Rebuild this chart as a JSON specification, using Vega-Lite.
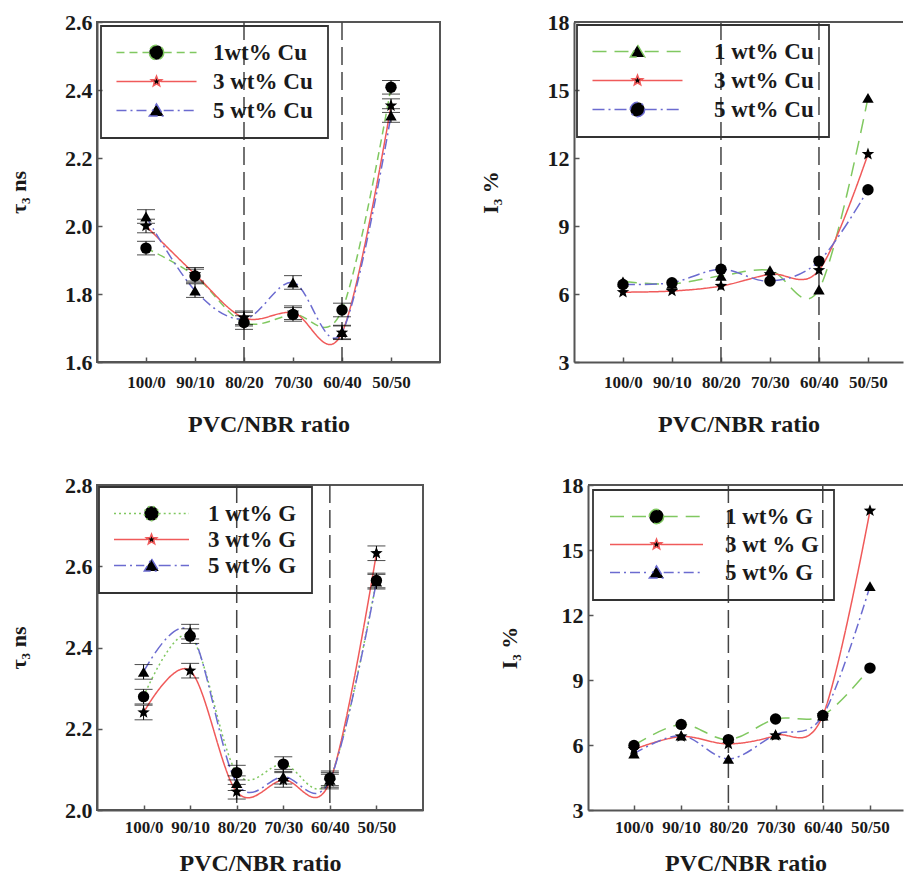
{
  "$schema": "https://vega.github.io/schema/vega-lite/v6.json",
  "padding": {"left": 6, "top": 10, "right": 0, "bottom": 0},
  "config": {
    "font": "Liberation Serif",
    "view": {"stroke": null},
    "axis": {"grid": false, "domainColor": "#555", "domainWidth": 2, "tickColor": "#555", "tickSize": -5, "tickWidth": 1.5,
      "labelFont": "Liberation Serif", "labelFontWeight": "bold", "labelColor": "#1a1a1a",
      "titleFont": "Liberation Serif", "titleFontWeight": "bold", "titleColor": "#1a1a1a"},
    "axisX": {"labelFontSize": 17, "labelAngle": 0, "labelPadding": 17, "titleFontSize": 24, "titlePadding": 22},
    "axisY": {"labelFontSize": 22, "labelPadding": 10, "titleFontSize": 22, "titlePadding": 34},
    "legend": {"orient": "top-left", "strokeColor": "#333", "strokeWidth": 1.8, "padding": 15,
      "labelFont": "Liberation Serif", "labelFontWeight": "bold", "labelFontSize": 23, "labelColor": "#1a1a1a",
      "symbolSize": 144, "symbolStrokeWidth": 1.5}
  },
  "spacing": 36,
  "resolve": {"scale": {"x": "independent", "y": "independent", "color": "independent", "shape": "independent", "strokeDash": "independent"}, "legend": {"color": "independent", "shape": "independent", "strokeDash": "independent"}},
  "vconcat": [
    {
      "bounds": "flush",
      "spacing": 134,
      "resolve": {"scale": {"x": "independent", "y": "independent", "color": "independent", "shape": "independent", "strokeDash": "independent"}, "legend": {"color": "independent", "shape": "independent", "strokeDash": "independent"}},
      "hconcat": [
        {
          "width": 343, "height": 340,
          "view": {"stroke": "#555", "strokeWidth": 2},
          "data": {"values": [
            {"ratio": "100/0", "series": "1wt% Cu", "val": 1.935, "err": 0.02},
            {"ratio": "90/10", "series": "1wt% Cu", "val": 1.853, "err": 0.02},
            {"ratio": "80/20", "series": "1wt% Cu", "val": 1.716, "err": 0.02},
            {"ratio": "70/30", "series": "1wt% Cu", "val": 1.740, "err": 0.02},
            {"ratio": "60/40", "series": "1wt% Cu", "val": 1.753, "err": 0.02},
            {"ratio": "50/50", "series": "1wt% Cu", "val": 2.408, "err": 0.02},
            {"ratio": "100/0", "series": "3 wt% Cu", "val": 2.000, "err": 0.02},
            {"ratio": "90/10", "series": "3 wt% Cu", "val": 1.858, "err": 0.02},
            {"ratio": "80/20", "series": "3 wt% Cu", "val": 1.730, "err": 0.02},
            {"ratio": "70/30", "series": "3 wt% Cu", "val": 1.745, "err": 0.02},
            {"ratio": "60/40", "series": "3 wt% Cu", "val": 1.686, "err": 0.02},
            {"ratio": "50/50", "series": "3 wt% Cu", "val": 2.354, "err": 0.02},
            {"ratio": "100/0", "series": "5 wt% Cu", "val": 2.028, "err": 0.02},
            {"ratio": "90/10", "series": "5 wt% Cu", "val": 1.810, "err": 0.02},
            {"ratio": "80/20", "series": "5 wt% Cu", "val": 1.726, "err": 0.02},
            {"ratio": "70/30", "series": "5 wt% Cu", "val": 1.834, "err": 0.02},
            {"ratio": "60/40", "series": "5 wt% Cu", "val": 1.688, "err": 0.02},
            {"ratio": "50/50", "series": "5 wt% Cu", "val": 2.325, "err": 0.02}
          ]},
          "layer": [
            {
              "data": {"values": [{"ratio": "80/20"}, {"ratio": "60/40"}]},
              "mark": {"type": "rule", "color": "#444", "strokeWidth": 1.5, "strokeDash": [18, 7]},
              "encoding": {"x": {"field": "ratio", "type": "ordinal", "scale": {"type": "point", "domain": ["100/0", "90/10", "80/20", "70/30", "60/40", "50/50"], "padding": 1}, "axis": {"title": "PVC/NBR ratio"}}}
            },
            {
              "mark": {"type": "line", "interpolate": "cardinal", "tension": 0, "strokeWidth": 1.5},
              "encoding": {
                "x": {"field": "ratio", "type": "ordinal", "scale": {"type": "point", "domain": ["100/0", "90/10", "80/20", "70/30", "60/40", "50/50"], "padding": 1}, "axis": {"title": "PVC/NBR ratio"}},
                "y": {"field": "val", "type": "quantitative", "scale": {"domain": [1.6, 2.6], "nice": false, "zero": false}, "axis": {"title": "τ₃ ns", "values": [1.6, 1.8, 2.0, 2.2, 2.4, 2.6], "format": ".1f"}},
                "color": {"field": "series", "type": "nominal", "scale": {"domain": ["1wt% Cu", "3 wt% Cu", "5 wt% Cu"], "range": ["#80c860", "#f05a5a", "#6b6bd0"]},
                  "legend": {"title": null, "offset": 4, "symbolOffset": 29, "labelOffset": 45, "rowPadding": 5,
                    "encode": {"symbols": {"update": {"fill": {"value": "black"}, "shape": {"signal": "datum.value == '1wt% Cu' ? 'M-6.67,0L-1.2,0M1.2,0L6.67,0M1.2,0A1.2,1.2 0 1,1 -1.2,0A1.2,1.2 0 1,1 1.2,0Z' : datum.value == '3 wt% Cu' ? 'M-6.67,0L-0.7,0M0.7,0L6.67,0M0,-0.9L0.222,-0.306L0.856,-0.278L0.359,0.117L0.529,0.728L0,0.378L-0.529,0.728L-0.359,0.117L-0.856,-0.278L-0.222,-0.306Z' : 'M-6.67,0L-1.2,0M1.2,0L6.67,0M0,-1.1L1.2,0.9L-1.2,0.9Z'"}}}}}},
                "strokeDash": {"field": "series", "type": "nominal", "scale": {"domain": ["1wt% Cu", "3 wt% Cu", "5 wt% Cu"], "range": [[8, 5], [1, 0], [10, 4, 2, 4]]},
                  "legend": {"title": null, "offset": 4, "symbolOffset": 29, "labelOffset": 45, "rowPadding": 5,
                    "encode": {"symbols": {"update": {"fill": {"value": "black"}, "shape": {"signal": "datum.value == '1wt% Cu' ? 'M-6.67,0L-1.2,0M1.2,0L6.67,0M1.2,0A1.2,1.2 0 1,1 -1.2,0A1.2,1.2 0 1,1 1.2,0Z' : datum.value == '3 wt% Cu' ? 'M-6.67,0L-0.7,0M0.7,0L6.67,0M0,-0.9L0.222,-0.306L0.856,-0.278L0.359,0.117L0.529,0.728L0,0.378L-0.529,0.728L-0.359,0.117L-0.856,-0.278L-0.222,-0.306Z' : 'M-6.67,0L-1.2,0M1.2,0L6.67,0M0,-1.1L1.2,0.9L-1.2,0.9Z'"}}}}}},
                "order": {"value": null}
              }
            },
            {
              "mark": {"type": "errorbar", "ticks": true, "color": "black"},
              "encoding": {
                "x": {"field": "ratio", "type": "ordinal", "scale": {"type": "point", "domain": ["100/0", "90/10", "80/20", "70/30", "60/40", "50/50"], "padding": 1}, "axis": {"title": "PVC/NBR ratio"}},
                "y": {"field": "val", "type": "quantitative", "scale": {"domain": [1.6, 2.6], "nice": false, "zero": false}, "axis": {"title": "τ₃ ns", "values": [1.6, 1.8, 2.0, 2.2, 2.4, 2.6], "format": ".1f"}},
                "yError": {"field": "err"}
              }
            },
            {
              "mark": {"type": "point", "filled": true, "color": "black", "opacity": 1, "size": 130},
              "encoding": {
                "x": {"field": "ratio", "type": "ordinal", "scale": {"type": "point", "domain": ["100/0", "90/10", "80/20", "70/30", "60/40", "50/50"], "padding": 1}, "axis": {"title": "PVC/NBR ratio"}},
                "y": {"field": "val", "type": "quantitative", "scale": {"domain": [1.6, 2.6], "nice": false, "zero": false}, "axis": {"title": "τ₃ ns", "values": [1.6, 1.8, 2.0, 2.2, 2.4, 2.6], "format": ".1f"}},
                "shape": {"field": "series", "type": "nominal", "scale": {"domain": ["5 wt% Cu", "3 wt% Cu", "1wt% Cu"], "range": ["triangle-up", "M0,-1.15L0.284,-0.391L1.094,-0.355L0.459,0.15L0.676,0.93L0,0.483L-0.676,0.93L-0.459,0.15L-1.094,-0.355L-0.284,-0.391Z", "circle"]}, "legend": null}
              }
            }
          ]
        },
        {
          "width": 329, "height": 340,
          "data": {"values": [
            {"ratio": "100/0", "series": "1 wt% Cu", "val": 6.55},
            {"ratio": "90/10", "series": "1 wt% Cu", "val": 6.45},
            {"ratio": "80/20", "series": "1 wt% Cu", "val": 6.8},
            {"ratio": "70/30", "series": "1 wt% Cu", "val": 7.05},
            {"ratio": "60/40", "series": "1 wt% Cu", "val": 6.2},
            {"ratio": "50/50", "series": "1 wt% Cu", "val": 14.65},
            {"ratio": "100/0", "series": "3 wt% Cu", "val": 6.08},
            {"ratio": "90/10", "series": "3 wt% Cu", "val": 6.13},
            {"ratio": "80/20", "series": "3 wt% Cu", "val": 6.35},
            {"ratio": "70/30", "series": "3 wt% Cu", "val": 6.87},
            {"ratio": "60/40", "series": "3 wt% Cu", "val": 7.05},
            {"ratio": "50/50", "series": "3 wt% Cu", "val": 12.17},
            {"ratio": "100/0", "series": "5 wt% Cu", "val": 6.42},
            {"ratio": "90/10", "series": "5 wt% Cu", "val": 6.5},
            {"ratio": "80/20", "series": "5 wt% Cu", "val": 7.09},
            {"ratio": "70/30", "series": "5 wt% Cu", "val": 6.57},
            {"ratio": "60/40", "series": "5 wt% Cu", "val": 7.45},
            {"ratio": "50/50", "series": "5 wt% Cu", "val": 10.6}
          ]},
          "layer": [
            {
              "data": {"values": [{"ratio": "80/20"}, {"ratio": "60/40"}]},
              "mark": {"type": "rule", "color": "#444", "strokeWidth": 1.5, "strokeDash": [18, 7]},
              "encoding": {"x": {"field": "ratio", "type": "ordinal", "scale": {"type": "point", "domain": ["100/0", "90/10", "80/20", "70/30", "60/40", "50/50"], "padding": 0.857, "align": 0.583}, "axis": {"title": "PVC/NBR ratio"}}}
            },
            {
              "mark": {"type": "line", "interpolate": "cardinal", "tension": 0, "strokeWidth": 1.5},
              "encoding": {
                "x": {"field": "ratio", "type": "ordinal", "scale": {"type": "point", "domain": ["100/0", "90/10", "80/20", "70/30", "60/40", "50/50"], "padding": 0.857, "align": 0.583}, "axis": {"title": "PVC/NBR ratio"}},
                "y": {"field": "val", "type": "quantitative", "scale": {"domain": [3, 18], "nice": false, "zero": false}, "axis": {"title": "I₃ %", "titlePadding": 45, "values": [3, 6, 9, 12, 15, 18]}},
                "color": {"field": "series", "type": "nominal", "scale": {"domain": ["1 wt% Cu", "3 wt% Cu", "5 wt% Cu"], "range": ["#80c860", "#f05a5a", "#6b6bd0"]},
                  "legend": {"title": null, "offset": 3, "symbolOffset": 34, "labelOffset": 65, "rowPadding": 5,
                    "encode": {"symbols": {"update": {"fill": {"value": "black"}, "shape": {"signal": "datum.value == '1 wt% Cu' ? 'M-7.5,0L-1.2,0M1.2,0L7.5,0M0,-1.1L1.2,0.9L-1.2,0.9Z' : datum.value == '3 wt% Cu' ? 'M-7.5,0L-0.7,0M0.7,0L7.5,0M0,-0.9L0.222,-0.306L0.856,-0.278L0.359,0.117L0.529,0.728L0,0.378L-0.529,0.728L-0.359,0.117L-0.856,-0.278L-0.222,-0.306Z' : 'M-7.5,0L-1.2,0M1.2,0L7.5,0M1.2,0A1.2,1.2 0 1,1 -1.2,0A1.2,1.2 0 1,1 1.2,0Z'"}}}}}},
                "strokeDash": {"field": "series", "type": "nominal", "scale": {"domain": ["1 wt% Cu", "3 wt% Cu", "5 wt% Cu"], "range": [[14, 8], [1, 0], [12, 4, 2, 4]]},
                  "legend": {"title": null, "offset": 3, "symbolOffset": 34, "labelOffset": 65, "rowPadding": 5,
                    "encode": {"symbols": {"update": {"fill": {"value": "black"}, "shape": {"signal": "datum.value == '1 wt% Cu' ? 'M-7.5,0L-1.2,0M1.2,0L7.5,0M0,-1.1L1.2,0.9L-1.2,0.9Z' : datum.value == '3 wt% Cu' ? 'M-7.5,0L-0.7,0M0.7,0L7.5,0M0,-0.9L0.222,-0.306L0.856,-0.278L0.359,0.117L0.529,0.728L0,0.378L-0.529,0.728L-0.359,0.117L-0.856,-0.278L-0.222,-0.306Z' : 'M-7.5,0L-1.2,0M1.2,0L7.5,0M1.2,0A1.2,1.2 0 1,1 -1.2,0A1.2,1.2 0 1,1 1.2,0Z'"}}}}}},
                "order": {"value": null}
              }
            },
            {
              "mark": {"type": "point", "filled": true, "color": "black", "opacity": 1, "size": 130},
              "encoding": {
                "x": {"field": "ratio", "type": "ordinal", "scale": {"type": "point", "domain": ["100/0", "90/10", "80/20", "70/30", "60/40", "50/50"], "padding": 0.857, "align": 0.583}, "axis": {"title": "PVC/NBR ratio"}},
                "y": {"field": "val", "type": "quantitative", "scale": {"domain": [3, 18], "nice": false, "zero": false}, "axis": {"title": "I₃ %", "titlePadding": 45, "values": [3, 6, 9, 12, 15, 18]}},
                "shape": {"field": "series", "type": "nominal", "scale": {"domain": ["5 wt% Cu", "3 wt% Cu", "1 wt% Cu"], "range": ["circle", "M0,-1.15L0.284,-0.391L1.094,-0.355L0.459,0.15L0.676,0.93L0,0.483L-0.676,0.93L-0.459,0.15L-1.094,-0.355L-0.284,-0.391Z", "triangle-up"]}, "legend": null}
              }
            },
            {
              "mark": {"type": "rule", "color": "#555", "strokeWidth": 2},
              "encoding": {"y": {"datum": 18, "type": "quantitative", "scale": {"domain": [3, 18], "nice": false, "zero": false}, "axis": {"title": "I₃ %", "titlePadding": 45, "values": [3, 6, 9, 12, 15, 18]}}}
            }
          ]
        }
      ]
    },
    {
      "bounds": "flush",
      "spacing": 165,
      "resolve": {"scale": {"x": "independent", "y": "independent", "color": "independent", "shape": "independent", "strokeDash": "independent"}, "legend": {"color": "independent", "shape": "independent", "strokeDash": "independent"}},
      "hconcat": [
        {
          "width": 326, "height": 325,
          "view": {"stroke": "#555", "strokeWidth": 2},
          "data": {"values": [
            {"ratio": "100/0", "series": "1 wt% G", "val": 2.279, "err": 0.018},
            {"ratio": "90/10", "series": "1 wt% G", "val": 2.428, "err": 0.018},
            {"ratio": "80/20", "series": "1 wt% G", "val": 2.092, "err": 0.018},
            {"ratio": "70/30", "series": "1 wt% G", "val": 2.113, "err": 0.018},
            {"ratio": "60/40", "series": "1 wt% G", "val": 2.078, "err": 0.018},
            {"ratio": "50/50", "series": "1 wt% G", "val": 2.565, "err": 0.018},
            {"ratio": "100/0", "series": "3 wt% G", "val": 2.240, "err": 0.018},
            {"ratio": "90/10", "series": "3 wt% G", "val": 2.343, "err": 0.018},
            {"ratio": "80/20", "series": "3 wt% G", "val": 2.045, "err": 0.018},
            {"ratio": "70/30", "series": "3 wt% G", "val": 2.074, "err": 0.018},
            {"ratio": "60/40", "series": "3 wt% G", "val": 2.070, "err": 0.018},
            {"ratio": "50/50", "series": "3 wt% G", "val": 2.632, "err": 0.018},
            {"ratio": "100/0", "series": "5 wt% G", "val": 2.340, "err": 0.018},
            {"ratio": "90/10", "series": "5 wt% G", "val": 2.439, "err": 0.018},
            {"ratio": "80/20", "series": "5 wt% G", "val": 2.066, "err": 0.018},
            {"ratio": "70/30", "series": "5 wt% G", "val": 2.082, "err": 0.018},
            {"ratio": "60/40", "series": "5 wt% G", "val": 2.074, "err": 0.018},
            {"ratio": "50/50", "series": "5 wt% G", "val": 2.562, "err": 0.018}
          ]},
          "layer": [
            {
              "data": {"values": [{"ratio": "80/20"}, {"ratio": "60/40"}]},
              "mark": {"type": "rule", "color": "#444", "strokeWidth": 1.5, "strokeDash": [18, 7]},
              "encoding": {"x": {"field": "ratio", "type": "ordinal", "scale": {"type": "point", "domain": ["100/0", "90/10", "80/20", "70/30", "60/40", "50/50"], "padding": 1}, "axis": {"title": "PVC/NBR ratio", "labelPadding": 14, "titlePadding": 16}}}
            },
            {
              "mark": {"type": "line", "interpolate": "cardinal", "tension": 0, "strokeWidth": 1.5},
              "encoding": {
                "x": {"field": "ratio", "type": "ordinal", "scale": {"type": "point", "domain": ["100/0", "90/10", "80/20", "70/30", "60/40", "50/50"], "padding": 1}, "axis": {"title": "PVC/NBR ratio", "labelPadding": 14, "titlePadding": 16}},
                "y": {"field": "val", "type": "quantitative", "scale": {"domain": [2.0, 2.8], "nice": false, "zero": false}, "axis": {"title": "τ₃ ns", "values": [2.0, 2.2, 2.4, 2.6, 2.8], "format": ".1f"}},
                "color": {"field": "series", "type": "nominal", "scale": {"domain": ["1 wt% G", "3 wt% G", "5 wt% G"], "range": ["#80c860", "#f05a5a", "#6b6bd0"]},
                  "legend": {"title": null, "offset": 2, "symbolOffset": 26, "labelOffset": 45, "rowPadding": 2,
                    "encode": {"symbols": {"update": {"fill": {"value": "black"}, "shape": {"signal": "datum.value == '1 wt% G' ? 'M-6.25,0L-1.2,0M1.2,0L6.25,0M1.2,0A1.2,1.2 0 1,1 -1.2,0A1.2,1.2 0 1,1 1.2,0Z' : datum.value == '3 wt% G' ? 'M-6.25,0L-0.7,0M0.7,0L6.25,0M0,-0.9L0.222,-0.306L0.856,-0.278L0.359,0.117L0.529,0.728L0,0.378L-0.529,0.728L-0.359,0.117L-0.856,-0.278L-0.222,-0.306Z' : 'M-6.25,0L-1.2,0M1.2,0L6.25,0M0,-1.1L1.2,0.9L-1.2,0.9Z'"}}}}}},
                "strokeDash": {"field": "series", "type": "nominal", "scale": {"domain": ["1 wt% G", "3 wt% G", "5 wt% G"], "range": [[2, 3], [1, 0], [12, 4, 2, 4]]},
                  "legend": {"title": null, "offset": 2, "symbolOffset": 26, "labelOffset": 45, "rowPadding": 2,
                    "encode": {"symbols": {"update": {"fill": {"value": "black"}, "shape": {"signal": "datum.value == '1 wt% G' ? 'M-6.25,0L-1.2,0M1.2,0L6.25,0M1.2,0A1.2,1.2 0 1,1 -1.2,0A1.2,1.2 0 1,1 1.2,0Z' : datum.value == '3 wt% G' ? 'M-6.25,0L-0.7,0M0.7,0L6.25,0M0,-0.9L0.222,-0.306L0.856,-0.278L0.359,0.117L0.529,0.728L0,0.378L-0.529,0.728L-0.359,0.117L-0.856,-0.278L-0.222,-0.306Z' : 'M-6.25,0L-1.2,0M1.2,0L6.25,0M0,-1.1L1.2,0.9L-1.2,0.9Z'"}}}}}},
                "order": {"value": null}
              }
            },
            {
              "mark": {"type": "errorbar", "ticks": true, "color": "black"},
              "encoding": {
                "x": {"field": "ratio", "type": "ordinal", "scale": {"type": "point", "domain": ["100/0", "90/10", "80/20", "70/30", "60/40", "50/50"], "padding": 1}, "axis": {"title": "PVC/NBR ratio", "labelPadding": 14, "titlePadding": 16}},
                "y": {"field": "val", "type": "quantitative", "scale": {"domain": [2.0, 2.8], "nice": false, "zero": false}, "axis": {"title": "τ₃ ns", "values": [2.0, 2.2, 2.4, 2.6, 2.8], "format": ".1f"}},
                "yError": {"field": "err"}
              }
            },
            {
              "mark": {"type": "point", "filled": true, "color": "black", "opacity": 1, "size": 130},
              "encoding": {
                "x": {"field": "ratio", "type": "ordinal", "scale": {"type": "point", "domain": ["100/0", "90/10", "80/20", "70/30", "60/40", "50/50"], "padding": 1}, "axis": {"title": "PVC/NBR ratio", "labelPadding": 14, "titlePadding": 16}},
                "y": {"field": "val", "type": "quantitative", "scale": {"domain": [2.0, 2.8], "nice": false, "zero": false}, "axis": {"title": "τ₃ ns", "values": [2.0, 2.2, 2.4, 2.6, 2.8], "format": ".1f"}},
                "shape": {"field": "series", "type": "nominal", "scale": {"domain": ["5 wt% G", "3 wt% G", "1 wt% G"], "range": ["triangle-up", "M0,-1.15L0.284,-0.391L1.094,-0.355L0.459,0.15L0.676,0.93L0,0.483L-0.676,0.93L-0.459,0.15L-1.094,-0.355L-0.284,-0.391Z", "circle"]}, "legend": null}
              }
            }
          ]
        },
        {
          "width": 315, "height": 325,
          "data": {"values": [
            {"ratio": "100/0", "series": "1 wt% G", "val": 5.98},
            {"ratio": "90/10", "series": "1 wt% G", "val": 6.95},
            {"ratio": "80/20", "series": "1 wt% G", "val": 6.25},
            {"ratio": "70/30", "series": "1 wt% G", "val": 7.2},
            {"ratio": "60/40", "series": "1 wt% G", "val": 7.36},
            {"ratio": "50/50", "series": "1 wt% G", "val": 9.55},
            {"ratio": "100/0", "series": "3 wt % G", "val": 5.8},
            {"ratio": "90/10", "series": "3 wt % G", "val": 6.39},
            {"ratio": "80/20", "series": "3 wt % G", "val": 6.05},
            {"ratio": "70/30", "series": "3 wt % G", "val": 6.44},
            {"ratio": "60/40", "series": "3 wt % G", "val": 7.36},
            {"ratio": "50/50", "series": "3 wt % G", "val": 16.81},
            {"ratio": "100/0", "series": "5 wt% G", "val": 5.6},
            {"ratio": "90/10", "series": "5 wt% G", "val": 6.44},
            {"ratio": "80/20", "series": "5 wt% G", "val": 5.36},
            {"ratio": "70/30", "series": "5 wt% G", "val": 6.48},
            {"ratio": "60/40", "series": "5 wt% G", "val": 7.36},
            {"ratio": "50/50", "series": "5 wt% G", "val": 13.33}
          ]},
          "layer": [
            {
              "data": {"values": [{"ratio": "80/20"}, {"ratio": "60/40"}]},
              "mark": {"type": "rule", "color": "#444", "strokeWidth": 1.5, "strokeDash": [18, 7]},
              "encoding": {"x": {"field": "ratio", "type": "ordinal", "scale": {"type": "point", "domain": ["100/0", "90/10", "80/20", "70/30", "60/40", "50/50"], "padding": 0.837, "align": 0.582}, "axis": {"title": "PVC/NBR ratio", "labelPadding": 14, "titlePadding": 16}}}
            },
            {
              "mark": {"type": "line", "interpolate": "cardinal", "tension": 0, "strokeWidth": 1.5},
              "encoding": {
                "x": {"field": "ratio", "type": "ordinal", "scale": {"type": "point", "domain": ["100/0", "90/10", "80/20", "70/30", "60/40", "50/50"], "padding": 0.837, "align": 0.582}, "axis": {"title": "PVC/NBR ratio", "labelPadding": 14, "titlePadding": 16}},
                "y": {"field": "val", "type": "quantitative", "scale": {"domain": [3, 18], "nice": false, "zero": false}, "axis": {"title": "I₃ %", "titlePadding": 40, "values": [3, 6, 9, 12, 15, 18]}},
                "color": {"field": "series", "type": "nominal", "scale": {"domain": ["1 wt% G", "3 wt % G", "5 wt% G"], "range": ["#80c860", "#f05a5a", "#6b6bd0"]},
                  "legend": {"title": null, "offset": 5, "symbolOffset": 37, "labelOffset": 57, "rowPadding": 4,
                    "encode": {"symbols": {"update": {"fill": {"value": "black"}, "shape": {"signal": "datum.value == '1 wt% G' ? 'M-7.75,0L-1.2,0M1.2,0L7.75,0M1.2,0A1.2,1.2 0 1,1 -1.2,0A1.2,1.2 0 1,1 1.2,0Z' : datum.value == '3 wt % G' ? 'M-7.75,0L-0.7,0M0.7,0L7.75,0M0,-0.9L0.222,-0.306L0.856,-0.278L0.359,0.117L0.529,0.728L0,0.378L-0.529,0.728L-0.359,0.117L-0.856,-0.278L-0.222,-0.306Z' : 'M-7.75,0L-1.2,0M1.2,0L7.75,0M0,-1.1L1.2,0.9L-1.2,0.9Z'"}}}}}},
                "strokeDash": {"field": "series", "type": "nominal", "scale": {"domain": ["1 wt% G", "3 wt % G", "5 wt% G"], "range": [[14, 8], [1, 0], [10, 4, 2, 4]]},
                  "legend": {"title": null, "offset": 5, "symbolOffset": 37, "labelOffset": 57, "rowPadding": 4,
                    "encode": {"symbols": {"update": {"fill": {"value": "black"}, "shape": {"signal": "datum.value == '1 wt% G' ? 'M-7.75,0L-1.2,0M1.2,0L7.75,0M1.2,0A1.2,1.2 0 1,1 -1.2,0A1.2,1.2 0 1,1 1.2,0Z' : datum.value == '3 wt % G' ? 'M-7.75,0L-0.7,0M0.7,0L7.75,0M0,-0.9L0.222,-0.306L0.856,-0.278L0.359,0.117L0.529,0.728L0,0.378L-0.529,0.728L-0.359,0.117L-0.856,-0.278L-0.222,-0.306Z' : 'M-7.75,0L-1.2,0M1.2,0L7.75,0M0,-1.1L1.2,0.9L-1.2,0.9Z'"}}}}}},
                "order": {"value": null}
              }
            },
            {
              "mark": {"type": "point", "filled": true, "color": "black", "opacity": 1, "size": 130},
              "encoding": {
                "x": {"field": "ratio", "type": "ordinal", "scale": {"type": "point", "domain": ["100/0", "90/10", "80/20", "70/30", "60/40", "50/50"], "padding": 0.837, "align": 0.582}, "axis": {"title": "PVC/NBR ratio", "labelPadding": 14, "titlePadding": 16}},
                "y": {"field": "val", "type": "quantitative", "scale": {"domain": [3, 18], "nice": false, "zero": false}, "axis": {"title": "I₃ %", "titlePadding": 40, "values": [3, 6, 9, 12, 15, 18]}},
                "shape": {"field": "series", "type": "nominal", "scale": {"domain": ["5 wt% G", "3 wt % G", "1 wt% G"], "range": ["triangle-up", "M0,-1.15L0.284,-0.391L1.094,-0.355L0.459,0.15L0.676,0.93L0,0.483L-0.676,0.93L-0.459,0.15L-1.094,-0.355L-0.284,-0.391Z", "circle"]}, "legend": null}
              }
            },
            {
              "mark": {"type": "rule", "color": "#555", "strokeWidth": 2},
              "encoding": {"y": {"datum": 18, "type": "quantitative", "scale": {"domain": [3, 18], "nice": false, "zero": false}, "axis": {"title": "I₃ %", "titlePadding": 40, "values": [3, 6, 9, 12, 15, 18]}}}
            }
          ]
        }
      ]
    }
  ]
}
